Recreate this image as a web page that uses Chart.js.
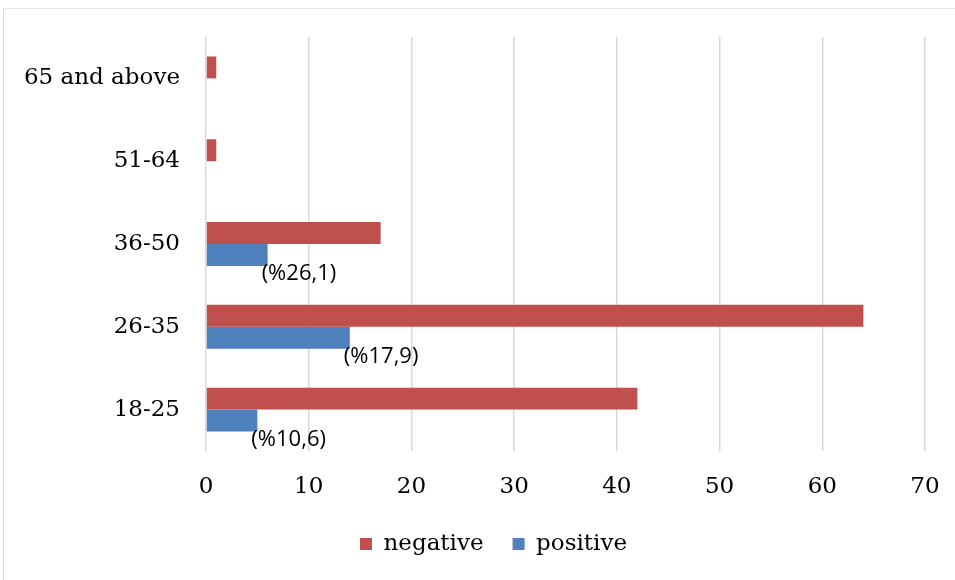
<!DOCTYPE html>
<html>
<head>
<meta charset="utf-8">
<script src="https://cdn.jsdelivr.net/npm/chart.js@4"></script>
<style>
  body { margin: 0; background: #fff; }
  #frame {
    position: absolute; left: 3px; top: 8px;
    width: 952px; height: 572px;
    border-left: 1px solid #d9d9d9; border-top: 1px solid #e6e6e6;
  }
</style>
</head>
<body>
<div id="frame"><canvas id="ageChart" width="951" height="571"></canvas></div>
<script>
const ageGroups = ['18-25', '26-35', '36-50', '51-64', '65 and above'];
const negativeCounts = [42, 64, 17, 1, 1];
const positiveCounts = [5, 14, 6, 0, 0];
const positiveLabels = ['(%10,6)', '(%17,9)', '(%26,1)', '', ''];

// draws the percentage notes under the blue bars
const barNotes = {
  id: 'barNotes',
  afterDatasetsDraw(chart) {
    const ctx = chart.ctx;
    const meta = chart.getDatasetMeta(1);
    ctx.save();
    ctx.font = '22px "Open Sans"';
    ctx.fillStyle = '#000';
    ctx.textAlign = 'left';
    ctx.textBaseline = 'middle';
    meta.data.forEach((bar, i) => {
      if (!positiveLabels[i]) return;
      ctx.fillText(positiveLabels[i], bar.x - 6, bar.y + 19);
    });
    ctx.restore();
  }
};

// legend sits a bit right of the canvas centre in the original
const legendShift = {
  id: 'legendShift',
  afterLayout(chart) {
    chart.legend.left += 29;
    chart.legend.right += 29;
  }
};

const serif = { family: '"DejaVu Serif"', size: 23 };

new Chart(document.getElementById('ageChart'), {
  type: 'bar',
  data: {
    labels: ageGroups,
    datasets: [
      { label: 'negative', data: negativeCounts, backgroundColor: '#C0504D' },
      { label: 'positive', data: positiveCounts, backgroundColor: '#4F81BD' }
    ]
  },
  options: {
    indexAxis: 'y',
    responsive: false,
    animation: false,
    categoryPercentage: 0.53,
    barPercentage: 1,
    layout: { padding: { top: 28, right: 30, bottom: 14.5, left: 0 } },
    scales: {
      x: {
        min: 0, max: 70,
        ticks: { stepSize: 10, color: '#000', font: serif, padding: 22 },
        grid: { color: '#d9d9d9', lineWidth: 1.5, drawTicks: false },
        border: { display: false },
        afterFit(scale) {
          scale.height = 52.5;
          scale.paddingLeft = 0;
          scale.paddingRight = 0;
        }
      },
      y: {
        reverse: true,
        ticks: { color: '#000', font: serif, padding: 26 },
        grid: { display: false, drawTicks: false },
        border: { display: false },
        afterFit(scale) {
          scale.width = 202;
          scale.paddingTop = 0;
          scale.paddingBottom = 0;
        }
      }
    },
    plugins: {
      legend: {
        position: 'bottom',
        labels: {
          color: '#000',
          font: serif,
          boxWidth: 12,
          boxHeight: 12,
          padding: 29
        }
      },
      tooltip: { enabled: false }
    }
  },
  plugins: [barNotes, legendShift]
});
</script>
</body>
</html>
